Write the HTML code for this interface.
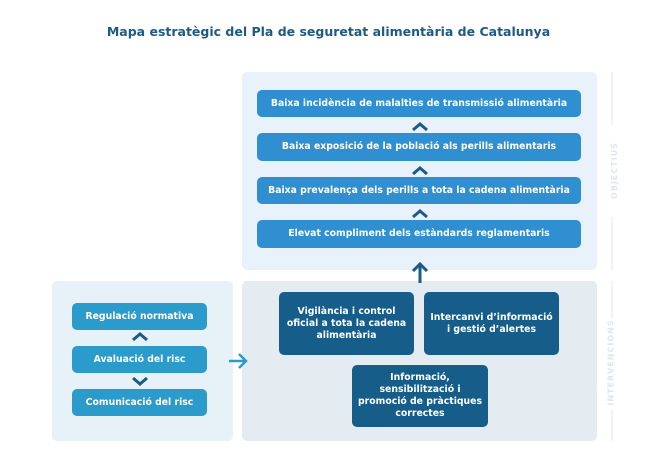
<!DOCTYPE html>
<html><head><meta charset="utf-8"><style>
body{margin:0;width:657px;height:471px;background:#fff;font-family:"DejaVu Sans","Liberation Sans",sans-serif;position:relative;overflow:hidden}
.a{position:absolute;box-sizing:border-box}
.t{position:absolute;left:0;width:657px;top:24px;text-align:center;font-weight:bold;font-size:12.5px;color:#1d5a86}
.panel{border-radius:5px}
.b{display:flex;align-items:center;justify-content:center;text-align:center;color:#fff;font-weight:bold;font-size:9.3px;border-radius:5px;line-height:12px}
.o{background:#2f8fd0}
.l{background:#2b9bcb}
.d{background:#175d89}
.side{position:absolute;font-size:8px;font-weight:bold;color:#dfe6ec;letter-spacing:1px;transform:rotate(-90deg);white-space:nowrap}
</style></head><body>
<div class="t">Mapa estratègic del Pla de seguretat alimentària de Catalunya</div>

<div class="a panel" style="left:242px;top:72px;width:355px;height:198px;background:#e9f2fa"></div>
<div class="a b o" style="left:257px;top:90px;width:324px;height:27px">Baixa incidència de malalties de transmissió alimentària</div>
<div class="a b o" style="left:257px;top:133px;width:324px;height:28px">Baixa exposició de la població als perills alimentaris</div>
<div class="a b o" style="left:257px;top:177px;width:324px;height:27px">Baixa prevalença dels perills a tota la cadena alimentària</div>
<div class="a b o" style="left:257px;top:220px;width:324px;height:28px">Elevat compliment dels estàndards reglamentaris</div>

<div class="a panel" style="left:52px;top:281px;width:181px;height:160px;background:#e6f1f8"></div>
<div class="a b l" style="left:72px;top:303px;width:135px;height:27px">Regulació normativa</div>
<div class="a b l" style="left:72px;top:346px;width:135px;height:27px">Avaluació del risc</div>
<div class="a b l" style="left:72px;top:389px;width:135px;height:27px">Comunicació del risc</div>

<div class="a panel" style="left:242px;top:281px;width:355px;height:160px;background:#e5ecf1"></div>
<div class="a b d" style="left:279px;top:292px;width:135px;height:63px">Vigilància i control<br>oficial a tota la cadena<br>alimentària</div>
<div class="a b d" style="left:424px;top:292px;width:135px;height:63px">Intercanvi d’informació<br>i gestió d’alertes</div>
<div class="a b d" style="left:352px;top:365px;width:136px;height:62px">Informació,<br>sensibilització i<br>promoció de pràctiques<br>correctes</div>

<svg class="a" style="left:0;top:0" width="657" height="471">
<g fill="none" stroke="#1b5c87" stroke-width="3" stroke-linecap="butt">
<polyline points="413,130 420,124 427,130"/>
<polyline points="413,174 420,168 427,174"/>
<polyline points="413,217 420,211 427,217"/>
<line x1="420" y1="283" x2="420" y2="265"/>
<polyline points="413,271 420,264 427,271"/>
<polyline points="133,340 140,334 147,340"/>
<polyline points="133,378 140,384 147,378"/>
</g>
<g fill="none" stroke="#2b9bcb" stroke-width="2.5">
<line x1="229" y1="361" x2="246" y2="361"/>
<polyline points="239,354 246,361 239,368"/>
</g>
<g stroke="#e3e8ec" stroke-width="1">
<line x1="612" y1="72" x2="612" y2="125"/>
<line x1="612" y1="217" x2="612" y2="270"/>
<line x1="612" y1="281" x2="612" y2="318"/>
<line x1="612" y1="410" x2="612" y2="441"/>
</g>
</svg>
<div class="side" style="left:586px;top:166px">OBJECTIUS</div>
<div class="side" style="left:568px;top:358px">INTERVENCIONS</div>
</body></html>
